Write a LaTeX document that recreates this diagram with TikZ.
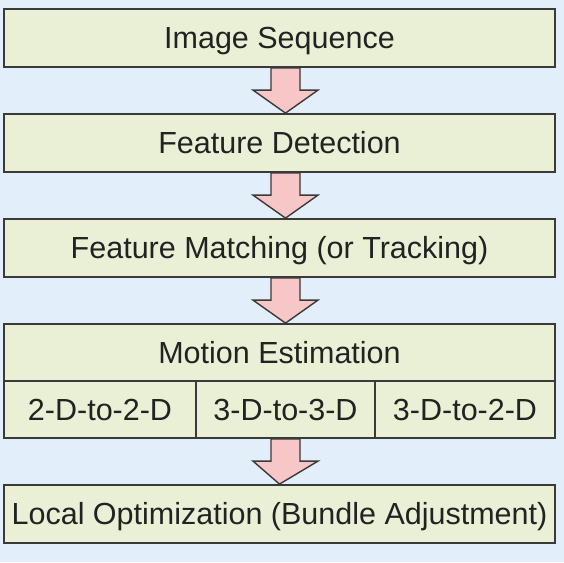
\documentclass[tikz,border=0pt]{standalone}
\usepackage{fontspec}
\setmainfont{Liberation Sans}
\usetikzlibrary{calc}
\definecolor{bgblue}{HTML}{E2EEF9}
\definecolor{boxfill}{HTML}{EAF0D6}
\definecolor{arrfill}{HTML}{F7C6C6}
\definecolor{edge}{HTML}{3A3A3A}
\definecolor{txt}{HTML}{222222}
\tikzset{
  stagebox/.style={draw=edge, fill=boxfill, line width=1.8pt, inner sep=0pt,
    minimum width=551pt, minimum height=58pt, text=txt,
    text height=21.5pt, text depth=0pt,
    font=\fontsize{30.5}{36}\selectfont},
  cellbox/.style={stagebox, minimum height=57pt},
  blockarr/.style={draw=edge, fill=arrfill, line width=1.4pt, line join=miter},
}
\newcommand\blockarrow[3]{%
  \draw[blockarr] let \p1=($(#1.south)+(#3pt,0pt)$), \p2=($(#2.north)+(#3pt,0pt)$) in
    (\x1-14.5pt,\y1) -- (\x1+14.5pt,\y1) -- (\x1+14.5pt,\y2+23pt) -- (\x1+32.5pt,\y2+23pt)
    -- (\x2,\y2) -- (\x1-32.5pt,\y2+23pt) -- (\x1-14.5pt,\y2+23pt) -- cycle;}
\begin{document}
\begin{tikzpicture}[x=1pt,y=-1pt]
\fill[bgblue] (0,0) rectangle (564,562);
\useasboundingbox (0,0) rectangle (564,562);
\node[stagebox] (img) at (279.5,38) {Image Sequence};
\node[stagebox] (det) at (279.5,143) {Feature Detection};
\node[stagebox] (mat) at (279.5,248) {Feature Matching (or Tracking)};
\node[cellbox] (mot) at (279.5,352.5) {Motion Estimation};
\node[cellbox, minimum width=192pt] (c1) at (100,409.5) {2-D-to-2-D};
\node[cellbox, minimum width=179pt] (c2) at (285.5,409.5) {3-D-to-3-D};
\node[cellbox, minimum width=180pt] (c3) at (465,409.5) {3-D-to-2-D};
\node[stagebox] (opt) at (279.5,514) {Local Optimization (Bundle Adjustment)};
\blockarrow{img}{det}{6}
\blockarrow{det}{mat}{6}
\blockarrow{mat}{mot}{6}
\blockarrow{c2}{opt}{0}
\end{tikzpicture}
\end{document}
